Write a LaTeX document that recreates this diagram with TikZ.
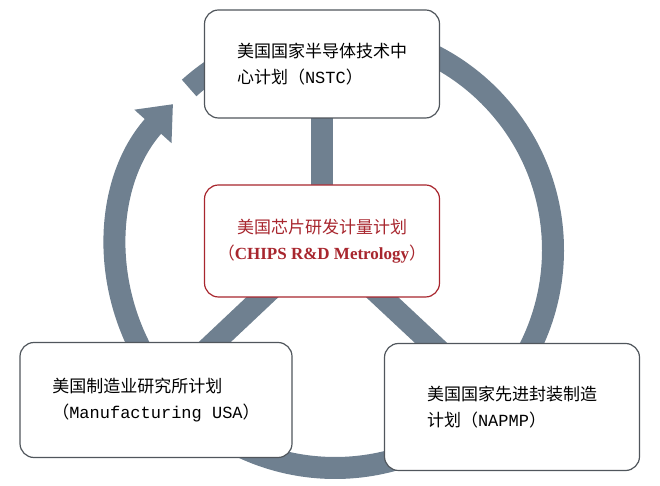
\documentclass[tikz,border=0pt]{standalone}
\usepackage{fontspec}
\setmainfont{Liberation Serif}
\newfontfamily\cjk{Noto Sans CJK SC}
\newfontfamily\mono{Liberation Mono}
\usetikzlibrary{arrows.meta,positioning}
\definecolor{ringgray}{HTML}{6F8090}
\definecolor{boxline}{HTML}{50565C}
\definecolor{chipred}{HTML}{A8262E}
\begin{document}
\begin{tikzpicture}[x=1pt,y=1pt,
    plan/.style = {rectangle, rounded corners=14pt, draw=boxline, line width=1.2pt, fill=white, align=left, font=\cjk\fontsize{17}{26}\selectfont, inner sep=8pt},
    core/.style = {plan, draw=chipred, text=chipred, align=center},
    spoke/.style = {ringgray, line width=22pt}
]
    \useasboundingbox (0,0) rectangle (660,486);
    % Ring
    \draw[ringgray, line width=22pt, -{Triangle[width=48pt,length=30pt]}]
        (335,236)+(132:218) arc[start angle=132, end angle=-222, radius=218];
    % Spokes
    \coordinate (hub) at (322,245);
    \coordinate (mfgend) at (200,130);
    \coordinate (napmpend) at (445,130);
    \coordinate (nstcend) at (322,400);
    \draw[spoke] (hub) -- (nstcend);
    \draw[spoke] (hub) -- (mfgend);
    \draw[spoke] (hub) -- (napmpend);
    % Boxes
    \node[plan, minimum width=235pt, minimum height=108pt] (nstc) at (322,422) {美国国家半导体技术中\\心计划（{\mono NSTC}）};
    \node[core, minimum width=235pt, minimum height=112pt] (chips) at (hub) {美国芯片研发计量计划\\（{\rmfamily\bfseries CHIPS R\&D Metrology}）};
    \node[plan, minimum width=272pt, minimum height=115pt] (mfg) at (156,86) {美国制造业研究所计划\\（{\mono Manufacturing USA}）};
    \node[plan, minimum width=255pt, minimum height=127pt] (napmp) at (512,79) {美国国家先进封装制造\\计划（{\mono NAPMP}）};
\end{tikzpicture}
\end{document}
